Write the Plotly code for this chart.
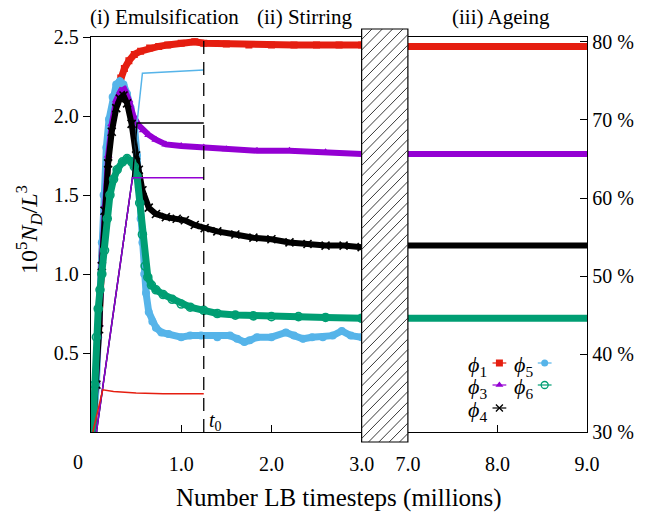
import plotly.graph_objects as go

FONT = "Liberation Serif"

# ---------------- data (time in millions of LB steps, N_D in 1e5/L^3) ----------------
# phi1 (red, squares)
t_phi1 = [0.02, 0.06, 0.09, 0.12, 0.15, 0.18, 0.21, 0.25, 0.29, 0.33, 0.37, 0.42, 0.48,
          0.55, 0.65, 0.75, 0.85, 1.0, 1.15, 1.25, 1.5, 1.75, 2.0, 2.25, 2.5, 2.75, 3.0]
n_phi1 = [0.0, 0.35, 0.7, 1.1, 1.45, 1.75, 1.95, 2.1, 2.18, 2.24, 2.3, 2.35, 2.39,
          2.41, 2.43, 2.44, 2.45, 2.46, 2.47, 2.46, 2.455, 2.45, 2.45, 2.45, 2.45, 2.45, 2.45]
t_phi1_age = [7.0, 7.5, 8.0, 8.5, 9.0]
n_phi1_age = [2.44, 2.44, 2.44, 2.44, 2.44]

# phi5 (light blue, filled circles) - no ageing data
t_phi5 = [0.02, 0.06, 0.08, 0.10, 0.12, 0.14, 0.17, 0.20, 0.24, 0.28, 0.32, 0.36, 0.40, 0.44,
          0.48, 0.51, 0.53, 0.55, 0.57, 0.59, 0.61, 0.64, 0.68, 0.72, 0.78, 0.86, 1.0, 1.1,
          1.22, 1.4, 1.54, 1.62, 1.70, 1.76, 1.84, 2.0, 2.16, 2.25, 2.35, 2.45, 2.57, 2.68,
          2.78, 2.88, 3.0]
n_phi5 = [0.0, 0.3, 0.6, 0.9, 1.2, 1.5, 1.8, 1.98, 2.12, 2.2, 2.22, 2.2, 2.14, 2.05,
          1.95, 1.75, 1.55, 1.35, 1.2, 1.0, 0.88, 0.76, 0.70, 0.66, 0.63, 0.62, 0.60, 0.61,
          0.61, 0.60, 0.61, 0.59, 0.57, 0.58, 0.60, 0.60, 0.63, 0.61, 0.59, 0.60, 0.60, 0.61,
          0.64, 0.61, 0.60]

# phi3 (purple, triangles)
t_phi3 = [0.02, 0.06, 0.09, 0.12, 0.15, 0.19, 0.23, 0.28, 0.33, 0.37, 0.42, 0.47, 0.53,
          0.58, 0.64, 0.72, 0.83, 1.0, 1.25, 1.5, 1.84, 2.2, 2.6, 3.0]
n_phi3 = [0.0, 0.32, 0.68, 1.08, 1.43, 1.75, 1.95, 2.1, 2.16, 2.17, 2.1, 2.0, 1.94,
          1.91, 1.88, 1.85, 1.82, 1.81, 1.80, 1.79, 1.78, 1.78, 1.77, 1.76]
t_phi3_age = [7.0, 7.5, 8.0, 8.5, 9.0]
n_phi3_age = [1.76, 1.76, 1.76, 1.76, 1.76]

# phi4 (black, crosses)
t_phi4 = [0.02, 0.06, 0.09, 0.12, 0.15, 0.19, 0.23, 0.28, 0.32, 0.36, 0.40, 0.45, 0.50,
          0.53, 0.57, 0.64, 0.72, 0.83, 0.95, 1.04, 1.15, 1.26, 1.4, 1.6, 1.8, 2.0, 2.2,
          2.4, 2.6, 2.8, 3.0]
n_phi4 = [0.0, 0.3, 0.65, 1.05, 1.4, 1.7, 1.9, 2.05, 2.11, 2.13, 2.08, 1.95, 1.75,
          1.66, 1.53, 1.42, 1.38, 1.36, 1.35, 1.34, 1.31, 1.29, 1.27, 1.25, 1.23, 1.22, 1.20,
          1.19, 1.18, 1.18, 1.17]
t_phi4_age = [7.0, 7.5, 8.0, 8.5, 9.0]
n_phi4_age = [1.18, 1.18, 1.18, 1.18, 1.18]

# phi6 (green, open circles)
t_phi6 = [0.02, 0.04, 0.06, 0.08, 0.10, 0.12, 0.15, 0.18, 0.21, 0.25, 0.29, 0.35, 0.40,
          0.45, 0.48, 0.51, 0.54, 0.57, 0.60, 0.63, 0.67, 0.72, 0.80, 0.90, 1.0, 1.1, 1.25,
          1.4, 1.6, 1.8, 2.0, 2.3, 2.6, 3.0]
n_phi6 = [0.0, 0.3, 0.6, 0.78, 0.9, 1.0, 1.15, 1.35, 1.5, 1.6, 1.66, 1.71, 1.73,
          1.71, 1.68, 1.62, 1.45, 1.25, 1.05, 0.98, 0.93, 0.90, 0.87, 0.84, 0.81, 0.79, 0.77,
          0.75, 0.74, 0.735, 0.73, 0.73, 0.725, 0.72]
t_phi6_age = [7.0, 7.5, 8.0, 8.5, 9.0]
n_phi6_age = [0.72, 0.72, 0.72, 0.72, 0.72]

# thin lines: volume fraction during emulsification (right axis, %)
t_frac_red = [0.02, 0.13, 0.25, 0.5, 0.8, 1.0, 1.25]
p_frac_red = [30.0, 35.4, 35.2, 35.0, 34.9, 34.9, 34.9]
t_frac_purple = [0.06, 0.46, 1.25]
p_frac_purple = [30.0, 62.6, 62.6]
t_frac_black = [0.06, 0.46, 0.51, 1.25]
p_frac_black = [30.0, 62.6, 69.6, 69.6]
t_frac_blue = [0.06, 0.46, 0.51, 0.57, 1.25]
p_frac_blue = [30.0, 62.6, 69.6, 76.0, 76.4]

t0 = 1.25

x1_ticks = [1.0, 2.0, 3.0]
x1_labels = ["1.0", "2.0", "3.0"]
x2_ticks = [7.0, 8.0, 9.0]
x2_labels = ["7.0", "8.0", "9.0"]
y_ticks = [0.5, 1.0, 1.5, 2.0, 2.5]
y_labels = ["0.5", "1.0", "1.5", "2.0", "2.5"]
y2_ticks = [30, 40, 50, 60, 70, 80]
y2_labels = ["30 %", "40 %", "50 %", "60 %", "70 %", "80 %"]

RED = "#e51e10"
PURPLE = "#9400d3"
BLACK = "#000000"
BLUE = "#56b4e9"
GREEN = "#009e73"

# ---------------- geometry (pixels) ----------------
W, H = 646, 513
L, R, T, B = 91, 51, 37, 81
PW, PH = W - L - R, H - T - B
BREAK_X0, BREAK_X1 = 366, 413
BOX_Y0, BOX_Y1 = 29, 442


def px(x):
    return (x - L) / PW


def py(y):
    return (H - B - y) / PH


fig = go.Figure()

styles = {
    "phi1": dict(color=RED, symbol="square", size=7, lw=7),
    "phi5": dict(color=BLUE, symbol="circle", size=8, lw=7),
    "phi3": dict(color=PURPLE, symbol="triangle-up", size=8, lw=6),
    "phi4": dict(color=BLACK, symbol="x-thin", size=8, lw=6),
    "phi6": dict(color=GREEN, symbol="circle-open", size=8, lw=7),
}


def add_thick(t, n, st, xaxis="x", markers=True):
    marker = dict(color=st["color"], symbol=st["symbol"], size=st["size"])
    if st["symbol"] in ("x-thin", "circle-open"):
        marker["line"] = dict(color=st["color"], width=1.6)
    fig.add_trace(go.Scatter(x=t, y=n, mode="lines+markers" if markers else "lines",
                             xaxis=xaxis, yaxis="y",
                             line=dict(color=st["color"], width=st["lw"]), marker=marker,
                             showlegend=False, hoverinfo="skip"))


add_thick(t_phi1, n_phi1, styles["phi1"])
add_thick(t_phi1_age, n_phi1_age, styles["phi1"], "x2", False)
add_thick(t_phi5, n_phi5, styles["phi5"])
add_thick(t_phi3, n_phi3, styles["phi3"])
add_thick(t_phi3_age, n_phi3_age, styles["phi3"], "x2", False)
add_thick(t_phi4, n_phi4, styles["phi4"])
add_thick(t_phi4_age, n_phi4_age, styles["phi4"], "x2", False)
add_thick(t_phi6, n_phi6, styles["phi6"])
add_thick(t_phi6_age, n_phi6_age, styles["phi6"], "x2", False)

for t, p, c in [(t_frac_blue, p_frac_blue, BLUE), (t_frac_black, p_frac_black, BLACK),
                (t_frac_purple, p_frac_purple, PURPLE), (t_frac_red, p_frac_red, RED)]:
    fig.add_trace(go.Scatter(x=t, y=p, mode="lines", xaxis="x", yaxis="y2",
                             line=dict(color=c, width=1.5), showlegend=False, hoverinfo="skip"))

# ---------------- legend (manual, label left / key right) ----------------
legend_items = [
    ("1", "phi1", 484, 506, 363),
    ("5", "phi5", 530, 552, 363),
    ("3", "phi3", 484, 506, 385),
    ("6", "phi6", 530, 552, 385),
    ("4", "phi4", 484, 506, 408),
]
annotations = []
for sub, key, lx, kx, ky in legend_items:
    st = styles[key]
    marker = dict(color=st["color"], symbol=st["symbol"], size=7)
    if st["symbol"] in ("x-thin", "circle-open"):
        marker["line"] = dict(color=st["color"], width=1.3)
    fig.add_trace(go.Scatter(x=[kx - 7, kx + 7], y=[ky, ky], mode="lines", xaxis="x3", yaxis="y3",
                             line=dict(color=st["color"], width=1.2), showlegend=False,
                             hoverinfo="skip"))
    fig.add_trace(go.Scatter(x=[kx], y=[ky], mode="markers", xaxis="x3", yaxis="y3",
                             marker=marker, showlegend=False, hoverinfo="skip"))
    annotations.append(dict(x=px(lx), y=py(ky + 3), xref="paper", yref="paper",
                            text=f"<i>ϕ</i><sub>{sub}</sub>", showarrow=False,
                            font=dict(family=FONT, size=22), xanchor="center", yanchor="middle"))

# ---------------- shapes: break box with hatch, t0 line ----------------
shapes = [dict(type="line", xref="x", yref="paper", x0=t0, x1=t0, y0=0, y1=1,
               line=dict(color="black", width=1.3, dash="13px,8px"))]
shapes.append(dict(type="rect", xref="paper", yref="paper", x0=px(BREAK_X0), x1=px(BREAK_X1),
                   y0=py(BOX_Y1), y1=py(BOX_Y0), fillcolor="white",
                   line=dict(color="black", width=1.2), layer="above"))
bw = BREAK_X1 - BREAK_X0
step = 10.5
c = BOX_Y0 - bw
while c < BOX_Y1:
    xa, ya = BREAK_X0, c + bw
    xb, yb = BREAK_X1, c
    if ya > BOX_Y1:
        xa = BREAK_X0 + (ya - BOX_Y1)
        ya = BOX_Y1
    if yb < BOX_Y0:
        xb = BREAK_X0 + (c + bw - BOX_Y0)
        yb = BOX_Y0
    if xb > xa:
        shapes.append(dict(type="line", xref="paper", yref="paper", x0=px(xa), y0=py(ya),
                           x1=px(xb), y1=py(yb), line=dict(color="#222222", width=0.9),
                           layer="above"))
    c += step

# ---------------- text annotations ----------------
annotations += [
    dict(x=px(166), y=py(17), xref="paper", yref="paper", text="(i) Emulsification",
         showarrow=False, font=dict(family=FONT, size=21), xanchor="center", yanchor="middle"),
    dict(x=px(308), y=py(17), xref="paper", yref="paper", text="(ii) Stirring",
         showarrow=False, font=dict(family=FONT, size=21), xanchor="center", yanchor="middle"),
    dict(x=px(508), y=py(17), xref="paper", yref="paper", text="(iii) Ageing",
         showarrow=False, font=dict(family=FONT, size=21), xanchor="center", yanchor="middle"),
    dict(x=px(78), y=py(462), xref="paper", yref="paper", text="0",
         showarrow=False, font=dict(family=FONT, size=20), xanchor="center", yanchor="middle"),
    dict(x=px(343), y=py(498), xref="paper", yref="paper", text="Number LB timesteps (millions)",
         showarrow=False, font=dict(family=FONT, size=25), xanchor="center", yanchor="middle"),
    dict(x=px(28), y=py(230), xref="paper", yref="paper",
         text="10<sup>5</sup><i>N</i><sub><i>D</i></sub>/<i>L</i><sup>3</sup>", textangle=-90,
         showarrow=False, font=dict(family=FONT, size=24), xanchor="center", yanchor="middle"),
    dict(x=t0, y=py(421), xref="x", yref="paper", text="<i>t</i><sub>0</sub>", xshift=12,
         showarrow=False, font=dict(family=FONT, size=20), xanchor="center", yanchor="middle"),
]

axis_common = dict(showline=True, linecolor="black", linewidth=1.3, showgrid=False,
                   zeroline=False, tickcolor="black", tickwidth=1.2, ticklen=7,
                   tickfont=dict(family=FONT, size=20, color="black"))

fig.update_layout(
    width=W, height=H, margin=dict(l=L, r=R, t=T, b=B, pad=0),
    paper_bgcolor="white", plot_bgcolor="rgba(0,0,0,0)", showlegend=False,
    font=dict(family=FONT, size=20, color="black"),
    xaxis=dict(domain=[0, px(BREAK_X0)], range=[0, 3.0], tickvals=x1_ticks, ticktext=x1_labels,
               ticks="inside", mirror=True, anchor="y", ticklabelstandoff=14, **axis_common),
    xaxis2=dict(domain=[px(BREAK_X1), 1], range=[7.0, 9.0], tickvals=x2_ticks, ticktext=x2_labels,
                ticks="inside", mirror=True, anchor="y", ticklabelstandoff=14, **axis_common),
    yaxis=dict(range=[0, 2.5], tickvals=y_ticks, ticktext=y_labels, ticks="outside",
               anchor="x", **axis_common),
    yaxis2=dict(range=[30, 80.64], tickvals=y2_ticks, ticktext=y2_labels, ticks="inside",
                overlaying="y", side="right", anchor="x2", **axis_common),
    xaxis3=dict(domain=[0, 1], range=[L, W - R], visible=False, anchor="y3", fixedrange=True),
    yaxis3=dict(domain=[0, 1], range=[H - B, T], visible=False, anchor="x3", fixedrange=True),
    shapes=shapes,
    annotations=annotations,
)

fig.write_html("out.html")
